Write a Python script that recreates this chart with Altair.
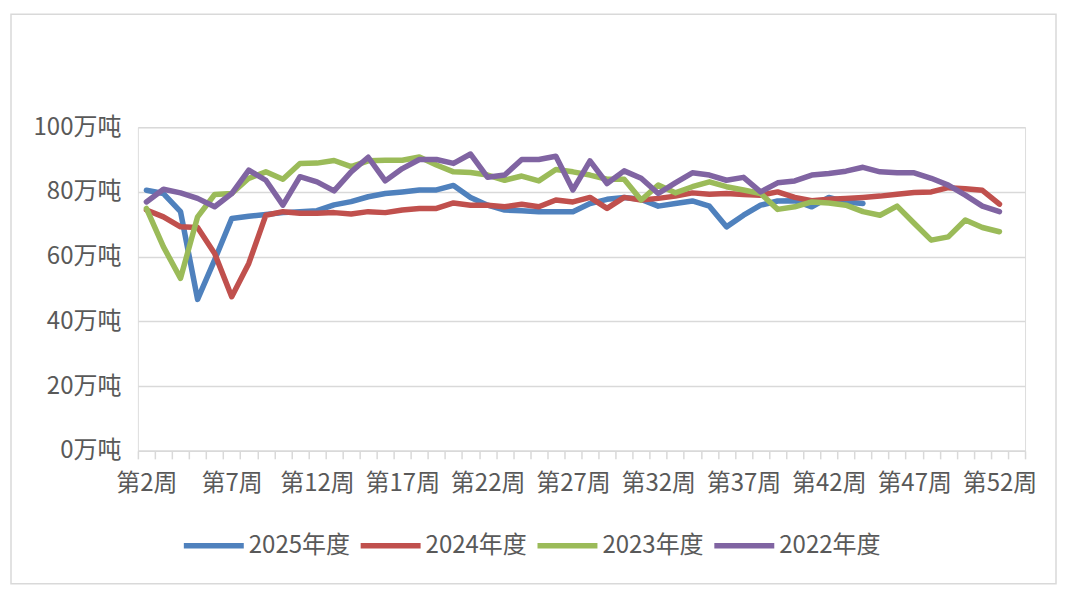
import altair as alt
import pandas as pd

weeks = list(range(2, 54))
series_names = ["2025年度", "2024年度", "2023年度", "2022年度"]
colors = ["#4F81BD", "#C0504D", "#9BBB59", "#8064A2"]

y2025 = [80.5, 79.5, 73.9, 46.8, 59, 71.8, 72.5, 73, 73.6, 73.9, 74.2, 76, 77, 78.5, 79.5, 80, 80.6,
         80.6, 82, 78.3, 75.9, 74.4, 74.2, 73.9, 73.9, 73.9, 76.4, 77.7, 78.3, 77.7, 75.6, 76.4, 77.2,
         75.6, 69.2, 72.8, 75.9, 77.2, 77.3, 75.4, 78.3, 76.9, 76.4]
y2024 = [74.4, 72.3, 69.2, 69, 61, 47.6, 57.9, 72.8, 73.9, 73.4, 73.4, 73.6, 73.2, 73.9, 73.6, 74.4, 74.9,
         74.9, 76.6, 75.9, 75.9, 75.4, 76.2, 75.4, 77.5, 76.9, 78.3, 74.9, 78.3, 77.5, 78, 78.7, 79.7,
         79.3, 79.5, 79.2, 79, 80, 78.3, 77.3, 77.7, 78, 78.3, 78.7, 79.3, 79.8, 80, 81.3, 81, 80.5, 76.2]
y2023 = [74.9, 63, 53.3, 72.3, 79.2, 79.5, 84.2, 86.2, 83.9, 88.8, 88.9, 89.7, 87.8, 89.6, 89.8, 89.8, 90.8,
         88.3, 86.2, 86, 85.2, 83.6, 84.9, 83.4, 86.9, 86.2, 85.2, 83.9, 83.9, 77.5, 82.1, 79.7, 81.6,
         83.1, 81.6, 80.6, 79.5, 74.6, 75.4, 76.9, 76.6, 75.9, 73.9, 72.8, 75.6, 70.3, 65.1, 66.1, 71.3, 69, 67.7]
y2022 = [76.9, 80.8, 79.7, 78, 75.4, 79.5, 86.7, 83.6, 75.9, 84.7, 83.1, 80.3, 86.2, 90.7, 83.4, 87.2, 90,
         90, 88.8, 91.7, 84.5, 85.2, 90, 90, 91, 80.6, 89.6, 82.6, 86.5, 84.2, 79.5, 82.8, 85.9,
         85.2, 83.6, 84.5, 80, 82.8, 83.4, 85.2, 85.7, 86.4, 87.6, 86.2, 85.9, 85.9, 84.2, 82.1, 79, 75.6, 73.9]

y_ticks = [0, 20, 40, 60, 80, 100]

rows = []
for name, vals in zip(series_names, [y2025, y2024, y2023, y2022]):
    for w, v in zip(weeks, vals):
        rows.append({"week": w, "value": v, "series": name})
df = pd.DataFrame(rows)

FONT = "Noto Sans CJK SC"
GRAY = "#D9D9D9"
TXT = "#595959"

lines = alt.Chart(df).mark_line(strokeWidth=5.5, strokeJoin="round", strokeCap="round").encode(
    x=alt.X("week:O", bandPosition=0.5,
            scale=alt.Scale(type="band", domain=weeks, paddingInner=0, paddingOuter=0),
            axis=alt.Axis(title=None, labelAngle=0, labelOverlap=False, labelFlush=False,
                          labelExpr="(datum.value - 2) % 5 == 0 ? '第' + datum.value + '周' : ''",
                          tickBand="extent", tickColor=GRAY, tickSize=8, tickWidth=1.5,
                          domainColor=GRAY, domainWidth=1.5, grid=False,
                          labelFontSize=24, labelColor=TXT, labelPadding=13, labelFont=FONT)),
    y=alt.Y("value:Q", scale=alt.Scale(domain=[0, 100], nice=False),
            axis=alt.Axis(title=None, values=y_ticks, labelExpr="datum.value + '万吨'",
                          grid=True, gridColor=GRAY, gridWidth=1.5, domain=False, ticks=False,
                          labelPadding=17, labelFontSize=24, labelColor=TXT, labelFont=FONT)),
    color=alt.Color("series:N", scale=alt.Scale(domain=series_names, range=colors),
                    legend=alt.Legend(title=None, orient="none", legendX=43, legendY=386,
                                      direction="horizontal", symbolType="stroke", symbolSize=3600,
                                      symbolStrokeWidth=5.5, labelFontSize=24, labelColor=TXT,
                                      labelFont=FONT, labelOffset=2, columnPadding=-1, padding=0)),
    order=alt.Order("week:Q"),
)

border = alt.Chart(pd.DataFrame({"a": [0]})).mark_rect(
    fill="transparent", stroke=GRAY, strokeWidth=1.5
).encode(x=alt.value(-127), x2=alt.value(919), y=alt.value(-113), y2=alt.value(457))

chart = alt.layer(border, lines).properties(
    width=888, height=324,
    autosize=alt.AutoSizeParams(type="none"),
    padding={"left": 130, "top": 119, "right": 40, "bottom": 140},
).configure_view(stroke="transparent").configure(font=FONT)

chart.save("out.html", embed_options={"renderer": "svg", "actions": False})
